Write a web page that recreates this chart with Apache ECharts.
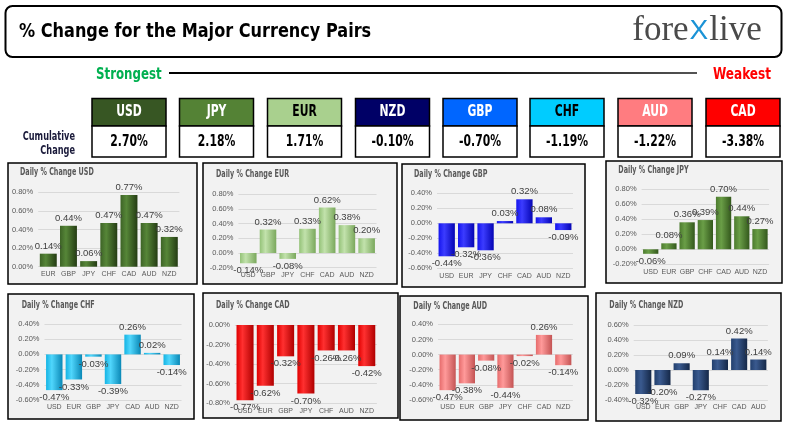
<!DOCTYPE html>
<html><head><meta charset="utf-8">
<script src="https://cdn.jsdelivr.net/npm/echarts@6/dist/echarts.min.js"></script>
<style>html,body{margin:0;padding:0;background:#fff}#c{width:787px;height:432px}</style>
</head><body><div id="c"></div>
<script>
// ---------- DATA ----------
const boxCurrencies = ['USD','JPY','EUR','NZD','GBP','CHF','AUD','CAD'];
const boxValues = [2.70, 2.18, 1.71, -0.10, -0.70, -1.19, -1.22, -3.38];

const panelNames = ['USD','EUR','GBP','JPY','CHF','CAD','AUD','NZD'];

const usdCats = ['EUR','GBP','JPY','CHF','CAD','AUD','NZD'];
const usdVals = [0.14, 0.44, 0.06, 0.47, 0.77, 0.47, 0.32];
const eurCats = ['USD','GBP','JPY','CHF','CAD','AUD','NZD'];
const eurVals = [-0.14, 0.32, -0.08, 0.33, 0.62, 0.38, 0.20];
const gbpCats = ['USD','EUR','JPY','CHF','CAD','AUD','NZD'];
const gbpVals = [-0.44, -0.32, -0.36, 0.03, 0.32, 0.08, -0.09];
const jpyCats = ['USD','EUR','GBP','CHF','CAD','AUD','NZD'];
const jpyVals = [-0.06, 0.08, 0.36, 0.39, 0.70, 0.44, 0.27];
const chfCats = ['USD','EUR','GBP','JPY','CAD','AUD','NZD'];
const chfVals = [-0.47, -0.33, -0.03, -0.39, 0.26, 0.02, -0.14];
const cadCats = ['USD','EUR','GBP','JPY','CHF','AUD','NZD'];
const cadVals = [-0.77, -0.62, -0.32, -0.70, -0.26, -0.26, -0.42];
const audCats = ['USD','EUR','GBP','JPY','CHF','CAD','NZD'];
const audVals = [-0.47, -0.38, -0.08, -0.44, -0.02, 0.26, -0.14];
const nzdCats = ['USD','EUR','GBP','JPY','CHF','CAD','AUD'];
const nzdVals = [-0.32, -0.20, 0.09, -0.27, 0.14, 0.42, 0.14];

const axisMins = [0, -0.2, -0.6, -0.2, -0.6, -0.8, -0.6, -0.4];
const axisMaxs = [0.8, 0.8, 0.4, 0.8, 0.4, 0, 0.4, 0.6];

// ---------- STYLE / LAYOUT ----------
const panelCats = [usdCats, eurCats, gbpCats, jpyCats, chfCats, cadCats, audCats, nzdCats];
const panelVals = [usdVals, eurVals, gbpVals, jpyVals, chfVals, cadVals, audVals, nzdVals];

const boxFill = ['#375623','#548235','#A9D08E','#000066','#0066FF','#00CCFF','#FF7C80','#FF0000'];
const boxText = ['#fff','#fff','#000','#fff','#fff','#000','#fff','#fff'];
const boxX = [92, 179.5, 267.5, 355.5, 443, 530, 618, 706];

const barColors = [
  ['#3d6326','#568638','#243c13'],
  ['#94c278','#c2e2ac','#7aa85c'],
  ['#1414ee','#3c3cff','#0505b4'],
  ['#4c7b2e','#6a9e47','#33581c'],
  ['#14b4e4','#50d6fc','#0a88b6'],
  ['#e00000','#ff3030','#b00000'],
  ['#e66c6c','#ff9a9a','#c45454'],
  ['#223f6d','#3a5a8f','#152848']
];

const layouts = [
  {box:[8,163,189,121],  grid:[38.2,192.3,141.2,74.4], title:[20,172.7]},
  {box:[203,163,194,121],grid:[238.4,194.3,138.1,73.4],title:[216,174]},
  {box:[402,164,183,123],grid:[437,193.3,136,75],      title:[414,174.7]},
  {box:[606,161,176,122],grid:[641.6,189.3,127.5,75],  title:[618.3,170]},
  {box:[8,294,186,125],  grid:[44.5,324,137,76],       title:[21.7,305]},
  {box:[203,293,195,125],grid:[234.9,325,142,78.3],    title:[216,305]},
  {box:[400,296,188,124],grid:[438,324.3,134.9,75.7],  title:[413.3,306]},
  {box:[596,293,185,128],grid:[633.7,325,134.2,75],    title:[609.3,305]}
];

const COND = '"DejaVu Sans Condensed","DejaVu Sans",sans-serif';
const SANS = '"Liberation Sans",Arial,sans-serif';

function cyl(c) {
  return {type:'linear', x:0, y:0, x2:1, y2:0, colorStops:[
    {offset:0, color:c[0]}, {offset:0.35, color:c[1]}, {offset:1, color:c[2]}]};
}
const pct = v => v.toFixed(2) + '%';

function txt(text, x, y, size, color, align, sx, extra) {
  return {type:'text', z:5, x:x, y:y, scaleX:sx,
    style:Object.assign({text:text, x:0, y:0, fontFamily:COND, fontWeight:'bold', fontSize:size,
      fill:color, align:align, verticalAlign:'middle'}, extra || {})};
}

const grids = [], xAxes = [], yAxes = [], series = [], graphics = [];

// header
graphics.push({type:'rect', z:-20, shape:{x:5.5, y:6, width:776, height:51, r:7},
  style:{fill:'#fff', stroke:'#000', lineWidth:2}});
graphics.push(txt('% Change for the Major Currency Pairs', 19, 32, 20, '#000', 'left', 0.895));
graphics.push({type:'text', z:5, style:{text:'{a|fore}{b|X}{a|live}', x:697, y:31, align:'center', verticalAlign:'middle',
  rich:{a:{fontFamily:'"Liberation Serif","DejaVu Serif",serif', fontSize:35, fill:'#4a4a4a', color:'#4a4a4a'},
        b:{fontFamily:'"Liberation Sans",sans-serif', fontSize:28, fill:'#1b93d6', color:'#1b93d6', padding:[0,1,0,1]}}}});
// strongest/weakest
graphics.push(txt('Strongest', 96, 75, 16, '#00B050', 'left', 0.82));
graphics.push(txt('Weakest', 771, 75, 16, '#FF0000', 'right', 0.84));
graphics.push({type:'line', z:5, shape:{x1:169, y1:73, x2:697, y2:73},
  style:{stroke:{type:'linear', x:0, y:0, x2:1, y2:0, colorStops:[{offset:0,color:'#000'},{offset:0.6,color:'#111'},{offset:1,color:'#555'}]}, lineWidth:2}});
// cumulative change
graphics.push(txt('Cumulative', 75, 136.5, 12, '#1a1a3a', 'right', 0.76));
graphics.push(txt('Change', 75, 151, 12, '#1a1a3a', 'right', 0.76));
// boxes
boxCurrencies.forEach((cur, i) => {
  const x = boxX[i], w = 74;
  graphics.push({type:'rect', z:3, shape:{x:x, y:98.5, width:w, height:27.5}, style:{fill:boxFill[i], stroke:'#000', lineWidth:1.5}});
  graphics.push({type:'rect', z:3, shape:{x:x, y:126, width:w, height:31}, style:{fill:'#fff', stroke:'#000', lineWidth:1.5}});
  graphics.push(txt(cur, x + w/2, 112.5, 15, boxText[i], 'center', 0.8,
    {textShadowColor: boxText[i] === '#fff' ? 'rgba(0,0,0,0.6)' : 'rgba(0,0,0,0)', textShadowOffsetX:1, textShadowOffsetY:1, textShadowBlur:0}));
  graphics.push(txt(pct(boxValues[i]), x + w/2, 142, 16, '#000', 'center', 0.75));
});

// panels
panelNames.forEach((name, i) => {
  const L = layouts[i];
  graphics.push({type:'rect', z:-10, shape:{x:L.box[0], y:L.box[1], width:L.box[2], height:L.box[3]},
    style:{fill:'#F2F2F2', stroke:'#000', lineWidth:1.5}});
  graphics.push(txt('Daily % Change ' + name, L.title[0], L.title[1], 10.5, '#595959', 'left', 0.68));
  grids.push({left:L.grid[0], top:L.grid[1], width:L.grid[2], height:L.grid[3], containLabel:false});
  xAxes.push({type:'category', gridIndex:i, data:panelCats[i], position:'bottom',
    axisLine:{show:false}, axisTick:{show:false},
    axisLabel:{fontSize:7, color:'#595959', margin:4, fontFamily:SANS, interval:0}});
  yAxes.push({type:'value', gridIndex:i, min:axisMins[i], max:axisMaxs[i], interval:0.2,
    axisLine:{show:false}, axisTick:{show:false},
    splitLine:{show:true, lineStyle:{color:'#D9D9D9', width:1}},
    axisLabel:{fontSize:7.5, color:'#595959', margin:5, fontFamily:SANS, formatter:v => pct(v)}});
  series.push({type:'bar', xAxisIndex:i, yAxisIndex:i, data:panelVals[i], barCategoryGap:'16%',
    itemStyle:{color:cyl(barColors[i])},
    label:{show:true, position:'outside', distance:2.5, fontSize:9.5, color:'#404040', fontFamily:SANS,
      formatter:p => pct(p.value)},
    animation:false});
});

const chart = echarts.init(document.getElementById('c'), null, {renderer:'canvas'});
chart.setOption({
  animation:false,
  backgroundColor:'#fff',
  grid:grids, xAxis:xAxes, yAxis:yAxes, series:series,
  graphic:{elements:graphics}
});
</script>
</body></html>
